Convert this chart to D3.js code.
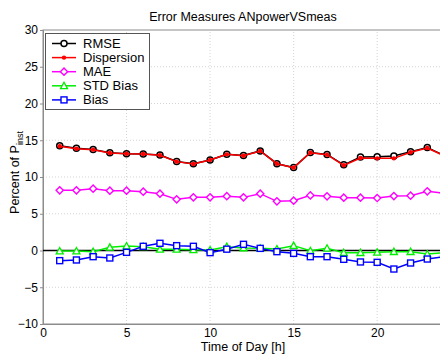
<!DOCTYPE html>
<html>
<head>
<meta charset="utf-8">
<script src="https://cdn.jsdelivr.net/npm/d3@7/dist/d3.min.js"></script>
<style>
  html, body { margin: 0; padding: 0; background: #fff; }
  svg { display: block; font-family: "Liberation Sans", Arial, Helvetica, sans-serif; }
</style>
</head>
<body>
<svg id="chart" width="440" height="356"></svg>
<script>
// Hourly error measures, percent of installed power
const hours = [1,2,3,4,5,6,7,8,9,10,11,12,13,14,15,16,17,18,19,20,21,22,23,24];
const rmse = [14.25,13.92,13.75,13.31,13.17,13.14,12.98,12.11,11.79,12.31,13.08,12.93,13.55,11.81,11.28,13.34,13.07,11.65,12.72,12.77,12.86,13.45,14.0,12.95];
const dispersion = [14.18,13.85,13.72,13.27,13.17,13.13,12.95,12.09,11.77,12.31,13.08,12.9,13.54,11.81,11.27,13.31,13.04,11.59,12.58,12.54,12.54,13.36,13.95,12.9];
const mae = [8.19,8.19,8.41,8.14,8.14,8.0,7.73,6.96,7.23,7.23,7.39,7.23,7.73,6.69,6.78,7.5,7.37,7.19,7.19,7.14,7.41,7.46,8.05,7.8];
const stdBias = [-0.07,-0.07,-0.16,0.43,0.61,0.52,0.16,0.16,0.1,0.07,0.52,0.35,0.3,0.2,0.66,-0.03,0.3,-0.3,-0.3,-0.25,-0.16,-0.16,-0.48,-0.3];
const bias = [-1.38,-1.29,-0.84,-1.02,-0.25,0.57,0.98,0.66,0.57,-0.29,0.18,0.84,0.29,-0.16,-0.39,-0.84,-0.84,-1.2,-1.56,-1.61,-2.52,-1.7,-1.16,-0.85];
const xTicks = [0,5,10,15,20];
const yTicks = [-10,-5,0,5,10,15,20,25,30];

const seriesList = [
  { name: "RMSE", values: rmse, color: "#000000", marker: "circle" },
  { name: "Dispersion", values: dispersion, color: "#ff0000", marker: "dot" },
  { name: "MAE", values: mae, color: "#ff00ff", marker: "diamond" },
  { name: "STD Bias", values: stdBias, color: "#00ee00", marker: "triangle" },
  { name: "Bias", values: bias, color: "#0000ff", marker: "square" }
];

const svg = d3.select("#chart");
const x = d3.scaleLinear().domain([0, 24]).range([43, 444]);
const y = d3.scaleLinear().domain([-10, 30]).range([324, 30]);

// grid
const grid = svg.append("g");
grid.selectAll(".gx").data(xTicks.filter(d => d > 0)).join("line")
  .attr("x1", d => x(d)).attr("x2", d => x(d))
  .attr("y1", y(-10)).attr("y2", y(30))
  .attr("stroke", "#d4d4d4").attr("stroke-width", 1).attr("stroke-dasharray", "1,2");
grid.selectAll(".gy").data(yTicks.filter(d => d > -10 && d < 30)).join("line")
  .attr("x1", x(0)).attr("x2", x(24))
  .attr("y1", d => y(d)).attr("y2", d => y(d))
  .attr("stroke", "#d4d4d4").attr("stroke-width", 1).attr("stroke-dasharray", "1,2");

// frame
svg.append("rect")
  .attr("x", x(0)).attr("y", y(30))
  .attr("width", x(24) - x(0)).attr("height", y(-10) - y(30))
  .attr("fill", "none").attr("stroke", "#8c8c8c").attr("stroke-width", 1);

// axes
const yAxis = d3.axisLeft(y).tickValues(yTicks).tickSize(3).tickPadding(2);
const gy = svg.append("g").attr("transform", `translate(${x(0)},0)`).call(yAxis);
gy.select(".domain").attr("stroke", "#8c8c8c");
gy.selectAll(".tick line").attr("stroke", "#8c8c8c");
gy.selectAll(".tick text").attr("font-size", 12).attr("fill", "#000")
  .attr("font-family", "Liberation Sans, Arial, sans-serif");

const xAxis = d3.axisBottom(x).tickValues(xTicks).tickSize(0).tickPadding(4);
const gx = svg.append("g").attr("transform", `translate(0,${y(-10)})`).call(xAxis);
gx.select(".domain").attr("stroke", "#8c8c8c");
gx.selectAll(".tick text").attr("font-size", 12).attr("fill", "#000")
  .attr("font-family", "Liberation Sans, Arial, sans-serif");

// zero line
svg.append("line")
  .attr("x1", x(0)).attr("x2", x(24))
  .attr("y1", y(0)).attr("y2", y(0))
  .attr("stroke", "#000").attr("stroke-width", 1.5);

function drawMarker(g, type, color, cx, cy) {
  if (type === "circle") {
    g.append("circle").attr("cx", cx).attr("cy", cy).attr("r", 3)
      .attr("fill", "#fff").attr("stroke", color).attr("stroke-width", 1.5);
  } else if (type === "dot") {
    g.append("circle").attr("cx", cx).attr("cy", cy).attr("r", 2.2)
      .attr("fill", color).attr("stroke", "none");
  } else if (type === "diamond") {
    const s = 3.6;
    g.append("path").attr("d", `M${cx},${cy - s}L${cx + s},${cy}L${cx},${cy + s}L${cx - s},${cy}Z`)
      .attr("fill", "#fff").attr("stroke", color).attr("stroke-width", 1.4);
  } else if (type === "triangle") {
    const s = 3.5;
    g.append("path").attr("d", `M${cx},${cy - s}L${cx + s},${cy + s * 0.8}L${cx - s},${cy + s * 0.8}Z`)
      .attr("fill", "#fff").attr("stroke", color).attr("stroke-width", 1.3);
  } else if (type === "square") {
    const s = 3;
    g.append("rect").attr("x", cx - s).attr("y", cy - s).attr("width", 2 * s).attr("height", 2 * s)
      .attr("fill", "#fff").attr("stroke", color).attr("stroke-width", 1.4);
  }
}

const line = d3.line().x(d => x(d[0])).y(d => y(d[1]));
seriesList.forEach(s => {
  const pts = hours.map((h, i) => [h, s.values[i]]);
  const g = svg.append("g");
  g.append("path").datum(pts).attr("d", line)
    .attr("fill", "none").attr("stroke", s.color).attr("stroke-width", 1.5);
  pts.forEach(p => drawMarker(g, s.marker, s.color, x(p[0]), y(p[1])));
});

// legend
const lg = svg.append("g");
lg.append("rect").attr("x", 45.5).attr("y", 33.5).attr("width", 104).attr("height", 76)
  .attr("fill", "#fff").attr("stroke", "#555").attr("stroke-width", 1);
seriesList.forEach((s, i) => {
  const ly = 43.5 + i * 14.1;
  lg.append("line").attr("x1", 52).attr("x2", 76).attr("y1", ly).attr("y2", ly)
    .attr("stroke", s.color).attr("stroke-width", 1.5);
  drawMarker(lg, s.marker, s.color, 64, ly);
  lg.append("text").attr("x", 83).attr("y", ly + 4.5)
    .attr("font-size", 13).attr("fill", "#000").text(s.name);
});

// title and labels
svg.append("text").attr("x", 243).attr("y", 21).attr("text-anchor", "middle")
  .attr("font-size", 12.5).attr("fill", "#000").text("Error Measures ANpowerVSmeas");

svg.append("text").attr("x", 243).attr("y", 351).attr("text-anchor", "middle")
  .attr("font-size", 12.5).attr("fill", "#000").text("Time of Day [h]");

const yl = svg.append("text")
  .attr("transform", "translate(19,172.5) rotate(-90)")
  .attr("text-anchor", "middle").attr("font-size", 12.5).attr("fill", "#000");
yl.append("tspan").text("Percent of P");
yl.append("tspan").attr("dy", 4).attr("font-size", 9).text("inst");
</script>
</body>
</html>
